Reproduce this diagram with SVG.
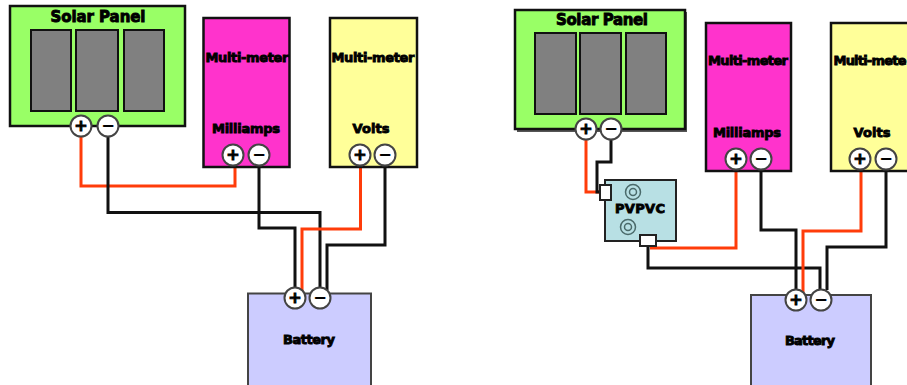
<svg xmlns="http://www.w3.org/2000/svg" width="907" height="385" viewBox="0 0 907 385">
<style>
.box{stroke:#111;stroke-width:2.5}
.panel{fill:#99ff66}.mA{fill:#ff33cc}.V{fill:#ffff99}.bat{fill:#ccccff;stroke:#444;stroke-width:2}.ctl{fill:#b8e0e4;stroke:#222;stroke-width:2}
.cell{fill:#808080;stroke:#111;stroke-width:2}
.shadow{fill:#555}
.t{fill:#fff;stroke:#444;stroke-width:2}
.w{fill:none;stroke-width:3}
.r{stroke:#ff3c0a}.k{stroke:#111}
text{font-family:"DejaVu Sans",sans-serif;font-weight:bold;font-size:13px;fill:#000;stroke:#000;stroke-width:.9;text-anchor:middle}
.h{font-size:15px}
.s{font-size:16px}
.ring{fill:none;stroke:#4a6a6a;stroke-width:1.5}
.c{fill:#fff;stroke:#222;stroke-width:2}
</style>
<defs>
<g id="plus"><circle class="t" r="10.5"/><text y="5" class="s">+</text></g>
<g id="minus"><circle class="t" r="10.5"/><text y="5" class="s" style="stroke-width:.2">−</text></g>
</defs>
<g id="connectors">
<path class="w r" d="M81 136V186H235V165"/>
<path class="w k" d="M108 136V212.500H320V288"/>
<path class="w k" d="M259 165V228H295V288"/>
<path class="w r" d="M360.500 165V229H302V292"/>
<path class="w k" d="M385 165V245H327V290"/>
<path class="w r" d="M586 139V192H603"/>
<path class="w k" d="M611 139V162H597V192H603"/>
<path class="w r" d="M650 248H736V169"/>
<path class="w k" d="M648 244V268H820V290"/>
<path class="w k" d="M761 169V230H796V290"/>
<path class="w r" d="M861 169V231H803V294"/>
<path class="w k" d="M886 169V247H827V290"/>
</g>
<g id="solar-left">
<rect class="box panel" x="10" y="6" width="175" height="120"/>
<rect class="cell" x="31" y="30" width="40" height="81"/><rect class="cell" x="76" y="30" width="42" height="81"/><rect class="cell" x="124" y="30" width="40" height="81"/>
<text class="h" x="98" y="22" textLength="95" lengthAdjust="spacing">Solar Panel</text>
<use href="#plus" x="81" y="126"/><use href="#minus" x="108" y="126"/>
</g>
<g id="meter-mA-left">
<rect class="box mA" x="203.500" y="18" width="86" height="149"/>
<text x="247" y="62" textLength="83" lengthAdjust="spacing">Multi-meter</text>
<text x="246" y="133" textLength="68" lengthAdjust="spacing">Milliamps</text>
<use href="#plus" x="233" y="155"/><use href="#minus" x="259" y="155"/>
</g>
<g id="meter-V-left">
<rect class="box V" x="330" y="18" width="87" height="149"/>
<text x="373" y="62" textLength="83" lengthAdjust="spacing">Multi-meter</text>
<text x="371" y="133" textLength="37" lengthAdjust="spacing">Volts</text>
<use href="#plus" x="360" y="155"/><use href="#minus" x="385" y="155"/>
</g>
<g id="battery-left">
<rect class="bat" x="248" y="293.500" width="123" height="100"/>
<text x="309" y="344" textLength="52" lengthAdjust="spacing">Battery</text>
<use href="#plus" x="295" y="298"/><use href="#minus" x="320" y="298"/>
</g>
<g id="solar-right">
<rect class="shadow" x="517" y="12" width="170" height="120"/>
<rect class="box panel" x="515" y="10" width="170" height="119"/>
<rect class="cell" x="535" y="33" width="41" height="81"/><rect class="cell" x="580" y="33" width="41" height="81"/><rect class="cell" x="626" y="33" width="40" height="81"/>
<text class="h" x="602" y="25" textLength="92" lengthAdjust="spacing">Solar Panel</text>
<use href="#plus" x="586" y="129"/><use href="#minus" x="611" y="129"/>
</g>
<g id="controller">
<rect class="ctl" x="605" y="180" width="71" height="61"/>
<circle class="ring" cx="633" cy="192" r="7.500"/><circle class="ring" cx="633" cy="192" r="3.500"/>
<circle class="ring" cx="628" cy="227" r="7.500"/><circle class="ring" cx="628" cy="227" r="3.500"/>
<text x="640" y="213" textLength="50" lengthAdjust="spacing">PVPVC</text>
<rect class="c" x="600" y="185" width="11" height="15"/>
<rect class="c" x="640" y="235" width="16" height="11"/>
</g>
<g id="meter-mA-right">
<rect class="box mA" x="706" y="23" width="85" height="148"/>
<text x="748" y="65" textLength="80" lengthAdjust="spacing">Multi-meter</text>
<text x="747" y="137" textLength="68" lengthAdjust="spacing">Milliamps</text>
<use href="#plus" x="736" y="159"/><use href="#minus" x="761" y="159"/>
</g>
<g id="meter-V-right">
<rect class="box V" x="831" y="23" width="87" height="148"/>
<text x="870" y="65" textLength="73" lengthAdjust="spacing">Multi-mete</text>
<text x="872" y="137" textLength="37" lengthAdjust="spacing">Volts</text>
<use href="#plus" x="860" y="159"/><use href="#minus" x="886" y="159"/>
</g>
<g id="battery-right">
<rect class="bat" x="751" y="295" width="120" height="100"/>
<text x="810" y="345" textLength="50" lengthAdjust="spacing">Battery</text>
<use href="#plus" x="796" y="300"/><use href="#minus" x="821" y="300"/>
</g>
</svg>
